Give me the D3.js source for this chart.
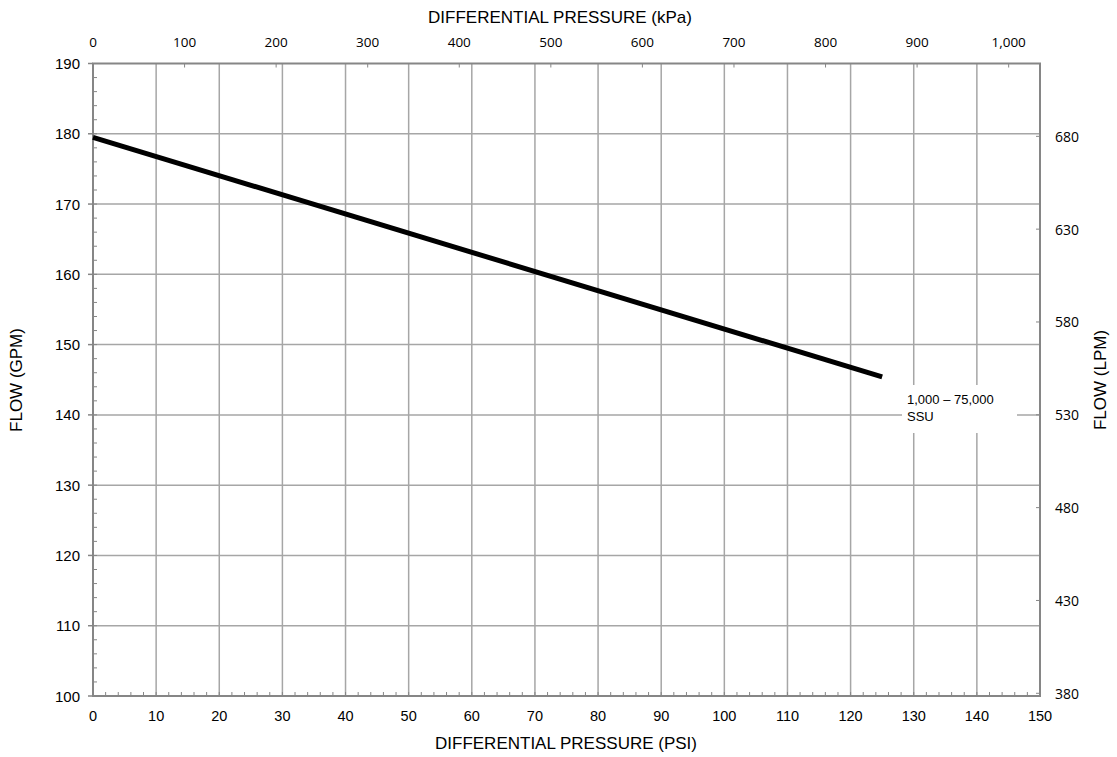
<!DOCTYPE html>
<html>
<head>
<meta charset="utf-8">
<script src="https://cdn.jsdelivr.net/npm/d3@7"></script>
<style>
  body { margin: 0; background: #fff; }
  svg { display: block; }
</style>
</head>
<body>
<div id="container"></div>
<script>
// curve data (PSI vs GPM)
const psi = [0, 125]
const gpm = [179.5, 145.4]
const curveLabel = ["1,000 \u2013 75,000", "SSU"]

// tick labels
const psiTicks = d3.range(0, 151, 10)
const gpmTicks = d3.range(100, 191, 10)
const kpaTicks = d3.range(0, 1001, 100)
const lpmTicks = d3.range(380, 681, 50)

const PSI_PER_KPA = 0.1450377
const LPM_PER_GPM = 3.785411

const width = 1117, height = 757
const margin = {top: 63.5, right: 77, bottom: 61, left: 93}

let svg = d3.select("#container")
    .append("svg")
    .attr("width", width)
    .attr("height", height)

let x = d3.scaleLinear().domain([0, 150]).range([margin.left, width - margin.right])
let y = d3.scaleLinear().domain([100, 190]).range([height - margin.bottom, margin.top])

const gridColor = "#a6a6a6"
const axisColor = "#868686"

//gridlines
let grid = svg.append("g")
grid.selectAll(".vg")
    .data(psiTicks.slice(1, -1))
    .enter().append("line")
    .attr("x1", d => x(d)).attr("x2", d => x(d))
    .attr("y1", y(100)).attr("y2", y(190))
    .attr("stroke", gridColor).attr("stroke-width", 1.5)
grid.selectAll(".hg")
    .data(gpmTicks.slice(1, -1))
    .enter().append("line")
    .attr("x1", x(0)).attr("x2", x(150))
    .attr("y1", d => y(d)).attr("y2", d => y(d))
    .attr("stroke", gridColor).attr("stroke-width", 1.5)

//minor ticks inside the frame
const tickLen = 4
svg.append("g").selectAll("line")
    .data(d3.range(2, 150, 2))
    .enter().append("line")
    .attr("x1", d => x(d)).attr("x2", d => x(d))
    .attr("y1", y(100)).attr("y2", y(100) - tickLen)
    .attr("stroke", axisColor).attr("stroke-width", 1)
svg.append("g").selectAll("line")
    .data(d3.range(102, 190, 2))
    .enter().append("line")
    .attr("x1", x(0)).attr("x2", x(0) + tickLen)
    .attr("y1", d => y(d)).attr("y2", d => y(d))
    .attr("stroke", axisColor).attr("stroke-width", 1)

//top kPa ticks
svg.append("g").selectAll("line")
    .data(kpaTicks.slice(1))
    .enter().append("line")
    .attr("x1", d => x(d * PSI_PER_KPA)).attr("x2", d => x(d * PSI_PER_KPA))
    .attr("y1", y(190)).attr("y2", y(190) + tickLen)
    .attr("stroke", axisColor).attr("stroke-width", 1)

//right LPM ticks
svg.append("g").selectAll("line")
    .data(lpmTicks)
    .enter().append("line")
    .attr("x1", x(150) - tickLen).attr("x2", x(150))
    .attr("y1", d => y(d / LPM_PER_GPM)).attr("y2", d => y(d / LPM_PER_GPM))
    .attr("stroke", axisColor).attr("stroke-width", 1)

//left major ticks (outside)
svg.append("g").selectAll("line")
    .data(gpmTicks)
    .enter().append("line")
    .attr("x1", x(0) - 5).attr("x2", x(0))
    .attr("y1", d => y(d)).attr("y2", d => y(d))
    .attr("stroke", axisColor).attr("stroke-width", 1.5)

//frame
svg.append("rect")
    .attr("x", x(0)).attr("y", y(190))
    .attr("width", x(150) - x(0)).attr("height", y(100) - y(190))
    .attr("fill", "none").attr("stroke", axisColor).attr("stroke-width", 2)

//curve
let line = d3.line().x(d => x(d[0])).y(d => y(d[1]))
svg.append("path")
    .datum(d3.zip(psi, gpm))
    .attr("d", line)
    .attr("fill", "none")
    .attr("stroke", "#000")
    .attr("stroke-width", 5)

//curve label with white box
svg.append("rect")
    .attr("x", 902).attr("y", 385)
    .attr("width", 115).attr("height", 48)
    .attr("fill", "#fff")
let lab = svg.append("text")
    .attr("x", 907).attr("y", 404)
    .attr("font-family", "Liberation Sans, Arial, sans-serif")
    .attr("font-size", 13)
    .attr("fill", "#000")
lab.selectAll("tspan")
    .data(curveLabel)
    .enter().append("tspan")
    .attr("x", 907)
    .attr("dy", (d, i) => i == 0 ? 0 : 17)
    .text(d => d)

//tick labels
const sans = "Liberation Sans, Arial, sans-serif"
const calib = "Open Sans, Carlito, Calibri, sans-serif"

svg.append("g").selectAll("text")
    .data(psiTicks)
    .enter().append("text")
    .attr("x", d => x(d)).attr("y", 721)
    .attr("text-anchor", "middle")
    .attr("font-family", sans).attr("font-size", 14.5)
    .text(d => d)

svg.append("g").selectAll("text")
    .data(gpmTicks)
    .enter().append("text")
    .attr("x", 80).attr("y", d => y(d) + 5.5)
    .attr("text-anchor", "end")
    .attr("font-family", sans).attr("font-size", 15)
    .text(d => d)

svg.append("g").selectAll("text")
    .data(kpaTicks)
    .enter().append("text")
    .attr("x", d => x(d * PSI_PER_KPA)).attr("y", 47)
    .attr("text-anchor", "middle")
    .attr("font-family", calib).attr("font-size", 13.5)
    .text(d => d3.format(",")(d))

svg.append("g").selectAll("text")
    .data(lpmTicks)
    .enter().append("text")
    .attr("x", 1055).attr("y", d => y(d / LPM_PER_GPM) + 5.5)
    .attr("text-anchor", "start")
    .attr("font-family", calib).attr("font-size", 14)
    .text(d => d)

//axis titles
svg.append("text")
    .attr("x", 566).attr("y", 749)
    .attr("text-anchor", "middle")
    .attr("font-family", sans).attr("font-size", 17)
    .text("DIFFERENTIAL PRESSURE (PSI)")
svg.append("text")
    .attr("x", 560).attr("y", 23)
    .attr("text-anchor", "middle")
    .attr("font-family", sans).attr("font-size", 17)
    .text("DIFFERENTIAL PRESSURE (kPa)")
svg.append("text")
    .attr("transform", "translate(22,380) rotate(-90)")
    .attr("text-anchor", "middle")
    .attr("font-family", sans).attr("font-size", 17)
    .text("FLOW (GPM)")
svg.append("text")
    .attr("transform", "translate(1106,380) rotate(-90)")
    .attr("text-anchor", "middle")
    .attr("font-family", sans).attr("font-size", 17)
    .text("FLOW (LPM)")
</script>
</body>
</html>
